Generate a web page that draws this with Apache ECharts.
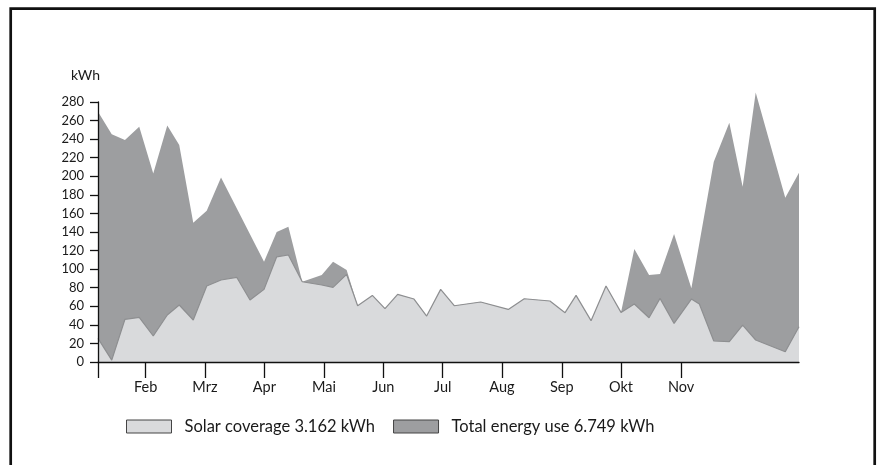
<!DOCTYPE html>
<html>
<head>
<meta charset="utf-8">
<script src="https://cdn.jsdelivr.net/npm/echarts@6/dist/echarts.min.js"></script>
<style>
  html, body { margin: 0; padding: 0; background: #fff; }
  #chart { width: 877px; height: 465px; }
</style>
</head>
<body>
<div id="chart"></div>
<script>
// Weekly energy readings (x = week of the year, y = kWh)
const solarWeeks = [0, 1, 1.96, 3, 4.02, 5.04, 5.91, 6.93, 7.91, 8.95, 10.09, 11.06, 12.08, 13, 13.85, 14.86,
  16.28, 17.1, 18.09, 18.89, 19.96, 20.88, 21.8, 22.99, 23.91, 24.93, 25.92, 27.84, 29.85, 31.01, 32.88,
  33.98, 34.78, 35.87, 36.96, 38.05, 39.02, 40.09, 40.89, 41.91, 43.17, 43.75, 44.8, 45.93, 46.9, 47.85, 50, 51];
const solarValues = [25.5, 2, 46, 48, 28, 50.6, 61.4, 45.2, 81.8, 88.3, 91.2, 66.7, 78.2, 113.3, 115.2, 86.4,
  82.9, 80.4, 94.3, 60.6, 71.7, 57.4, 72.8, 67.8, 49.5, 78.2, 60.6, 64.6, 56.6, 68.1, 65.7,
  53.1, 71.7, 44.5, 81.8, 53.4, 62.4, 47.7, 68.5, 41.5, 67.8, 62.4, 22.6, 21.9, 39.8, 23.7, 11.1, 38];

const totalWeeks = [0, 1, 1.96, 3, 4.02, 5.04, 5.91, 6.93, 7.91, 8.95, 12.08, 13, 13.85, 14.86, 16.28, 17.1, 18.09,
  18.89, 19.96, 20.88, 21.8, 22.99, 23.91, 24.93, 25.92, 27.84, 29.85, 31.01, 32.88, 33.98, 34.78, 35.87, 36.96, 38.05,
  39.02, 40.09, 40.89, 41.91, 43.17, 44.8, 45.93, 46.9, 47.85, 50, 51];
const totalValues = [269.5, 245.4, 239, 253.3, 203, 254.8, 233.6, 149.9, 162.8, 198.7, 108, 140, 145.6, 86.4, 93.6, 108, 99,
  60.6, 71.7, 57.4, 72.8, 67.8, 49.5, 78.2, 60.6, 64.6, 56.6, 68.1, 65.7, 53.1, 71.7, 44.5, 81.8, 53.4,
  121.6, 93.6, 94.7, 137.8, 79.3, 215.6, 257.6, 188.7, 290.2, 176.9, 203.8];

// Month boundaries on the week scale, and their labels
const monthTicks = [3.47, 7.78, 12.1, 16.44, 20.76, 25.08, 29.39, 33.74, 38.05, 42.42];
const monthLabels = ['Feb', 'Mrz', 'Apr', 'Mai', 'Jun', 'Jul', 'Aug', 'Sep', 'Okt', 'Nov'];

const solarName = 'Solar coverage 3.162 kWh';
const totalName = 'Total energy use 6.749 kWh';

const FONT = 'Lato';
const chart = echarts.init(document.getElementById('chart'), null, { renderer: 'canvas' });

chart.setOption({
  backgroundColor: '#fff',
  animation: false,
  textStyle: { fontFamily: FONT, color: '#1a1a1a' },
  graphic: [{
    type: 'rect',
    shape: { x: 10.7, y: 8.7, width: 864, height: 600 },
    style: { fill: 'none', stroke: '#111', lineWidth: 2.7 },
    z: 100
  }],
  grid: { left: 98, right: 78, top: 102, bottom: 103, containLabel: false },
  legend: {
    left: 126,
    top: 418,
    padding: 0,
    itemWidth: 45,
    itemHeight: 13,
    itemGap: 18,
    icon: 'rect',
    selectedMode: false,
    data: [solarName, totalName],
    itemStyle: { borderColor: '#444', borderWidth: 1 },
    textStyle: { fontFamily: FONT, fontSize: 16.5, color: '#1a1a1a', padding: [0, 0, 0, 8] }
  },
  xAxis: {
    type: 'value',
    min: 0,
    max: 51,
    z: 10,
    splitLine: { show: false },
    axisLine: { show: true, lineStyle: { color: '#111', width: 1.3 } },
    axisTick: {
      show: true, length: 16, inside: false,
      customValues: [0].concat(monthTicks),
      lineStyle: { color: '#111', width: 1.3 }
    },
    axisLabel: {
      show: true,
      customValues: monthTicks,
      margin: 18,
      fontFamily: FONT,
      fontSize: 14.5,
      color: '#1a1a1a',
      formatter: function (v) {
        const i = monthTicks.indexOf(v);
        return i >= 0 ? monthLabels[i] : '';
      }
    }
  },
  yAxis: {
    type: 'value',
    min: 0,
    max: 280,
    interval: 20,
    z: 10,
    name: 'kWh',
    nameLocation: 'end',
    nameGap: 20,
    nameTextStyle: { fontFamily: FONT, fontSize: 14, color: '#1a1a1a', align: 'right', padding: [0, -2, 0, 0] },
    splitLine: { show: false },
    axisLine: { show: true, lineStyle: { color: '#111', width: 1.3 } },
    axisTick: { show: true, length: 8, lineStyle: { color: '#111', width: 1.3 } },
    axisLabel: { margin: 14, fontFamily: FONT, fontSize: 13, color: '#1a1a1a' }
  },
  series: [
    {
      name: totalName,
      type: 'line',
      clip: false,
      data: totalWeeks.map((w, i) => [w, totalValues[i]]),
      showSymbol: false,
      symbol: 'none',
      color: '#9d9ea0',
      lineStyle: { width: 0, color: '#9d9ea0' },
      areaStyle: { color: '#9d9ea0', opacity: 1 },
      z: 2
    },
    {
      name: solarName,
      type: 'line',
      clip: false,
      data: solarWeeks.map((w, i) => [w, solarValues[i]]),
      showSymbol: false,
      symbol: 'none',
      color: '#d9dadc',
      lineStyle: { width: 1.2, color: '#8e8f91' },
      areaStyle: { color: '#d9dadc', opacity: 1 },
      z: 3
    }
  ]
});
</script>
</body>
</html>
